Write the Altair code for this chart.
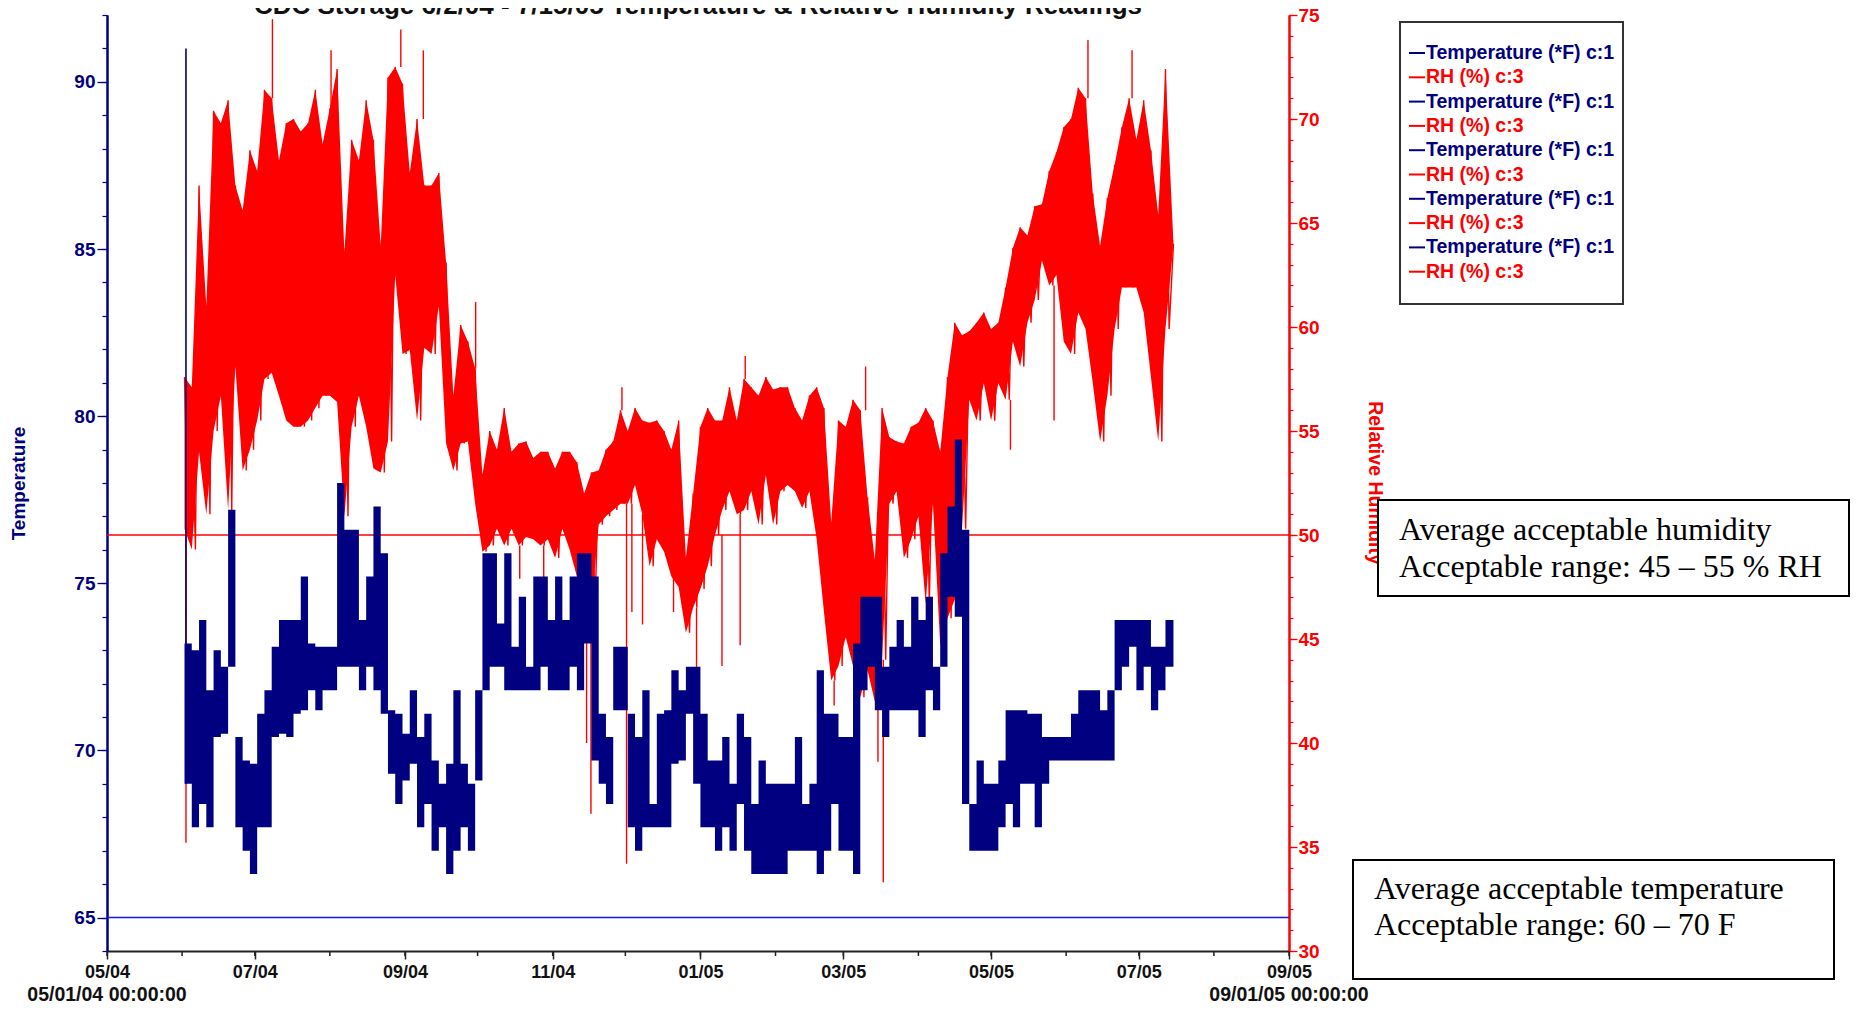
import altair as alt
import pandas as pd

NAVY = "#000080"
RED = "#FF0000"
BLUE = "#1515E6"
AXIS_GRAY = "#222222"
SANS = "Liberation Sans, Arial, sans-serif"
SERIF = "Liberation Serif, Times New Roman, serif"

# ---------------- data ----------------
# readings are grouped in 3-day windows starting 2004-06-02 (day 32 after 05/01/04):
# the highest and the lowest value seen in each window
START_DAY = 32
STEP_DAYS = 3

RH_HI = [57.6, 57.1, 66.8, 61.0, 70.4, 69.8, 70.9, 66.8, 65.6, 68.5,
         67.5, 71.4, 71.0, 68.0, 69.8, 70.0, 69.4, 69.8, 71.4, 68.8,
         70.5, 72.4, 63.6, 69.0, 68.0, 70.9, 69.0, 63.9, 72.0, 72.5,
         71.7, 67.4, 70.0, 66.8, 66.8, 67.4, 63.1, 56.7, 60.1, 59.3,
         58.0, 52.9, 55.0, 54.1, 56.1, 54.0, 54.4, 54.5, 53.7, 54.0,
         54.0, 53.2, 54.0, 54.0, 53.5, 52.0, 53.0, 53.1, 54.1, 54.5,
         56.0, 55.0, 56.1, 55.5, 55.4, 55.5, 55.0, 54.1, 55.5, 48.9,
         52.0, 55.2, 56.1, 55.5, 55.5, 57.1, 55.5, 57.5, 57.1, 56.7,
         57.6, 57.0, 57.1, 57.1, 56.1, 55.5, 56.7, 57.1, 56.1, 50.6,
         55.5, 55.2, 56.5, 56.0, 51.8, 48.8, 56.1, 54.7, 54.5, 54.4,
         55.2, 55.4, 56.1, 55.5, 54.0, 57.6, 60.2, 59.6, 59.8, 60.2,
         60.7, 59.9, 60.2, 61.9, 63.8, 64.8, 64.4, 65.8, 65.9, 67.5,
         68.4, 69.6, 70.0, 71.5, 71.0, 66.4, 63.9, 66.2, 67.8, 69.6,
         71.0, 69.0, 70.9, 68.5, 65.4, 72.4]

RH_LO = [50.3, 49.3, 54.0, 51.0, 55.0, 56.7, 51.2, 58.1, 53.1, 54.1,
         55.5, 57.5, 57.8, 56.7, 55.5, 55.2, 55.2, 55.5, 56.1, 56.7,
         56.7, 56.4, 50.9, 55.2, 56.7, 55.2, 53.2, 53.0, 54.5, 62.5,
         58.7, 58.9, 55.5, 59.0, 58.7, 61.0, 54.4, 53.1, 54.4, 54.5,
         51.5, 49.2, 49.5, 50.3, 49.5, 50.3, 49.5, 49.9, 49.8, 49.5,
         49.8, 48.9, 50.3, 49.3, 48.0, 46.0, 46.5, 50.5, 50.9, 51.2,
         51.5, 51.5, 52.4, 51.0, 48.5, 49.8, 49.2, 48.0, 47.5, 45.3,
         46.5, 47.4, 48.5, 50.0, 51.2, 52.1, 51.0, 51.2, 52.1, 50.5,
         52.9, 50.5, 52.1, 52.4, 52.1, 51.3, 52.1, 49.8, 46.3, 43.0,
         43.7, 45.1, 43.7, 42.2, 43.5, 42.0, 44.0, 51.5, 52.1, 48.9,
         49.8, 50.9, 46.7, 51.5, 44.7, 46.0, 46.9, 50.3, 56.5, 55.5,
         57.3, 55.5, 57.3, 56.5, 59.3, 58.1, 60.2, 61.3, 63.2, 62.0,
         62.5, 59.3, 58.7, 60.7, 59.9, 57.3, 54.5, 56.7, 59.9, 61.9,
         61.9, 61.9, 60.7, 57.6, 54.5, 59.9]

T_HI = [73.2, 73.0, 73.9, 71.8, 73.0, 72.5, 77.2, 70.4, 69.7, 69.6,
        71.1, 71.8, 73.1, 73.9, 73.9, 73.9, 75.2, 73.2, 73.1, 73.1,
        73.1, 78.0, 76.6, 76.6, 73.9, 75.2, 77.3, 75.9, 71.2, 71.1,
        70.5, 71.8, 70.4, 71.1, 69.7, 69.0, 69.6, 71.8, 69.6, 69.0,
        71.8, 75.9, 75.9, 73.8, 75.9, 73.1, 74.6, 72.5, 75.2, 75.2,
        73.9, 75.2, 73.9, 75.2, 75.9, 75.9, 75.2, 71.1, 70.4, 73.1,
        73.1, 71.1, 70.4, 71.8, 68.4, 71.1, 71.2, 72.4, 71.8, 72.5,
        72.5, 71.1, 69.7, 69.7, 70.4, 69.0, 71.1, 70.4, 68.4, 69.7,
        69.0, 69.0, 69.0, 69.0, 70.4, 68.4, 69.0, 72.4, 71.1, 71.1,
        70.4, 70.4, 73.2, 74.6, 74.6, 74.6, 72.5, 73.1, 73.9, 73.1,
        74.6, 73.9, 74.6, 72.5, 75.9, 77.3, 79.3, 76.6, 68.4, 69.7,
        69.0, 69.0, 69.7, 71.2, 71.2, 71.2, 71.1, 71.1, 70.4, 70.4,
        70.4, 70.4, 71.1, 71.8, 71.8, 71.8, 71.2, 71.8, 73.9, 73.9,
        73.9, 73.9, 73.9, 73.1, 73.1, 73.9]

T_LO = [69.0, 67.7, 68.4, 67.7, 70.4, 70.5, 72.5, 67.7, 67.0, 66.3,
        67.7, 67.7, 70.4, 70.5, 70.4, 71.1, 71.2, 71.8, 71.2, 71.8,
        71.8, 72.5, 72.5, 72.5, 71.8, 72.5, 71.8, 71.1, 69.3, 68.4,
        69.1, 69.6, 67.7, 68.4, 67.0, 67.7, 66.3, 67.0, 67.7, 67.0,
        69.1, 71.8, 72.5, 72.5, 71.8, 71.8, 71.8, 71.8, 71.8, 72.5,
        71.8, 71.8, 71.8, 72.5, 71.8, 73.2, 69.7, 69.0, 68.4, 71.2,
        71.2, 67.7, 67.0, 67.7, 67.7, 67.7, 67.7, 69.6, 69.7, 71.1,
        69.0, 67.7, 67.7, 67.0, 67.7, 67.0, 68.4, 67.0, 66.3, 66.3,
        66.3, 66.3, 66.3, 67.0, 67.0, 67.0, 67.0, 66.3, 67.0, 68.4,
        67.0, 67.0, 66.3, 71.8, 72.5, 71.2, 70.4, 71.2, 71.2, 71.2,
        71.2, 70.4, 71.8, 71.2, 72.5, 74.6, 74.0, 68.4, 67.0, 67.0,
        67.0, 67.0, 67.7, 68.4, 67.7, 69.0, 69.0, 67.7, 69.0, 69.7,
        69.7, 69.7, 69.7, 69.7, 69.7, 69.7, 69.7, 69.7, 71.8, 72.5,
        73.1, 71.8, 72.5, 71.2, 71.8, 72.5]

# last readings (07/15/05)
END_DAY = 440.3
RH_END = 64.0
T_END = 73.9

# isolated spikes: day after 05/01/04, value where the stroke starts, value where it ends
RH_SPIKE_DAY = [32.6, 68.3, 92.5, 121.3, 130.6, 152.2, 170.4, 180.3, 198.0, 199.8,
                212.6, 214.5, 216.7, 221.1, 233.9, 243.4, 253.9, 261.4, 263.5, 300.2,
                313.2, 318.3, 320.5, 373.0, 391.0, 405.0, 423.2]
RH_SPIKE_FROM = [56.6, 71.0, 70.5, 72.5, 70.0, 58.0, 49.5, 49.5, 46.0, 46.5,
                 56.0, 51.5, 51.5, 51.0, 48.0, 46.5, 50.0, 51.0, 57.5, 43.0,
                 56.0, 42.0, 44.0, 56.5, 62.0, 71.0, 71.0]
RH_SPIKE_TO = [35.2, 74.8, 73.3, 74.3, 73.3, 61.2, 47.9, 47.9, 40.0, 36.6,
               57.1, 34.2, 46.3, 45.7, 46.3, 41.1, 43.7, 44.7, 58.6, 41.8,
               58.1, 39.1, 33.3, 54.1, 55.5, 73.8, 73.3]
T_SPIKE_DAY = [32.6]
T_SPIKE_FROM = [69.0]
T_SPIKE_TO = [91.0]

TEMP_TARGET = 65
RH_TARGET = 50
TEMP_DOMAIN = [64, 92]
RH_DOMAIN = [30, 75]

MONTH_TICKS = ["2004-05-01", "2004-06-01", "2004-07-01", "2004-08-01", "2004-09-01",
               "2004-10-01", "2004-11-01", "2004-12-01", "2005-01-01", "2005-02-01",
               "2005-03-01", "2005-04-01", "2005-05-01", "2005-06-01", "2005-07-01",
               "2005-08-01", "2005-09-01"]
LABELED_TICKS = MONTH_TICKS[::2]
X_END_DATES = ["2004-05-01", "2005-09-01"]
X_END_LABELS = ["05/01/04 00:00:00", "09/01/05 00:00:00"]

TITLE = "CDC Storage  6/2/04 - 7/15/05  Temperature & Relative Humidity Readings"
LEGEND_LABELS = ["Temperature (*F) c:1", "RH (%) c:3"] * 5
LEGEND_COLORS = [NAVY, RED] * 5
BOX1_LINES = ["Average acceptable humidity", "Acceptable range: 45 \u2013 55 % RH"]
BOX2_LINES = ["Average acceptable temperature", "Acceptable range: 60 \u2013 70 F"]

# ---------------- helpers ----------------
BASE = pd.Timestamp("2004-05-01", tz="UTC")


def ms(day):
    return int((BASE + pd.Timedelta(days=day)).value // 10**6)


def to_ms(s):
    return int(pd.Timestamp(s, tz="UTC").value // 10**6)


def band(hi, lo, end_value):
    rows = [{"t": ms(START_DAY + STEP_DAYS * i), "hi": h, "lo": l}
            for i, (h, l) in enumerate(zip(hi, lo))]
    rows.append({"t": ms(END_DAY), "hi": end_value, "lo": end_value})
    return pd.DataFrame(rows)


def readings(hi, lo, end_value):
    # high reading at the start of each window, low reading half-way through it
    rows = []
    for i, (h, l) in enumerate(zip(hi, lo)):
        d = START_DAY + STEP_DAYS * i
        rows.append({"t": ms(d), "v": h})
        rows.append({"t": ms(d + STEP_DAYS / 2), "v": l})
    rows.append({"t": ms(END_DAY), "v": end_value})
    return pd.DataFrame(rows)


rh_band_df = band(RH_HI, RH_LO, RH_END)
rh_line_df = readings(RH_HI, RH_LO, RH_END)
t_band_df = band(T_HI, T_LO, T_END)
rh_spk = pd.DataFrame({"t": [ms(d) for d in RH_SPIKE_DAY], "a": RH_SPIKE_FROM, "b": RH_SPIKE_TO})
t_spk = pd.DataFrame({"t": [ms(d) for d in T_SPIKE_DAY], "a": T_SPIKE_FROM, "b": T_SPIKE_TO})
month_df = pd.DataFrame({"t": [to_ms(s) for s in MONTH_TICKS]})
xend_df = pd.DataFrame({"t": [to_ms(s) for s in X_END_DATES], "label": X_END_LABELS})

W, H = 1182, 936

xscale = alt.Scale(type="utc", domain=[ms(0), ms(488)])
xaxis = alt.Axis(
    orient="bottom", values=[to_ms(s) for s in LABELED_TICKS],
    labelExpr="utcFormat(datum.value, '%m/%y')",
    title=None, grid=False, tickSize=8, tickColor=AXIS_GRAY, tickWidth=1.5,
    domainColor=AXIS_GRAY, domainWidth=2,
    labelFont=SANS, labelFontSize=18, labelFontWeight="bold", labelColor="#111111",
    labelOverlap=False, labelFlush=False, labelAngle=0, labelPadding=4,
)
# every x encoding carries the same axis so the layers merge into one bottom axis
X = alt.X("t:T", scale=xscale, axis=xaxis)

tscale = alt.Scale(domain=TEMP_DOMAIN, nice=False, zero=False)
rscale = alt.Scale(domain=RH_DOMAIN, nice=False, zero=False)

taxis_major = alt.Axis(
    orient="left", values=list(range(65, 91, 5)), grid=False, tickSize=10,
    labelFont=SANS, labelFontSize=19, labelFontWeight="bold", labelColor=NAVY, labelPadding=2,
    domainColor=NAVY, domainWidth=2, tickColor=NAVY, tickWidth=1.3,
    title="Temperature", titleFont=SANS, titleFontSize=19, titleFontWeight="bold", titleColor=NAVY,
    titleX=-79, titleY=H / 2, titleAngle=270, titleBaseline="bottom", titleAlign="center",
)
taxis_minor = alt.Axis(orient="left", values=list(range(64, 93)), grid=False, tickSize=5,
                       labels=False, title=None, domainColor=NAVY, domainWidth=2,
                       tickColor=NAVY, tickWidth=1.2)
raxis_major = alt.Axis(
    orient="right", values=list(range(30, 76, 5)), grid=False, tickSize=8,
    labelFont=SANS, labelFontSize=19, labelFontWeight="bold", labelColor=RED, labelPadding=1,
    domainColor=RED, domainWidth=2, tickColor=RED, tickWidth=1.3, title=None,
)
raxis_minor = alt.Axis(orient="right", values=list(range(30, 76)), grid=False, tickSize=4,
                       labels=False, title=None, domainColor=RED, domainWidth=2,
                       tickColor=RED, tickWidth=1.2)

# ---------------- RH layer ----------------
rh_area = alt.Chart(rh_band_df).mark_area(color=RED, interpolate="linear").encode(
    x=X, y=alt.Y("lo:Q", scale=rscale, axis=raxis_major), y2="hi:Q")
rh_line = alt.Chart(rh_line_df).mark_line(
    color=RED, strokeWidth=1.4, strokeJoin="bevel", interpolate="linear").encode(
    x=X, y=alt.Y("v:Q", scale=rscale, axis=None))
rh_spikes = alt.Chart(rh_spk).mark_rule(color=RED, strokeWidth=1.4).encode(
    x=X, y=alt.Y("a:Q", scale=rscale, axis=None), y2="b:Q")
rh_ref = alt.Chart(pd.DataFrame({"v": [RH_TARGET]})).mark_rule(color=RED, strokeWidth=1.5).encode(
    y=alt.Y("v:Q", scale=rscale, axis=raxis_minor))
rh_layer = alt.layer(rh_area, rh_line, rh_spikes, rh_ref).resolve_axis(y="independent")

# ---------------- Temperature layer ----------------
t_area = alt.Chart(t_band_df).mark_area(color=NAVY, interpolate="step-after").encode(
    x=X, y=alt.Y("lo:Q", scale=tscale, axis=taxis_major), y2="hi:Q")
t_spikes = alt.Chart(t_spk).mark_rule(color=NAVY, strokeWidth=1.6).encode(
    x=X, y=alt.Y("a:Q", scale=tscale, axis=None), y2="b:Q")
t_ref = alt.Chart(pd.DataFrame({"v": [TEMP_TARGET]})).mark_rule(color=BLUE, strokeWidth=1.5).encode(
    y=alt.Y("v:Q", scale=tscale, axis=taxis_minor))
# monthly minor ticks and the full date under the first / last tick
minor_ticks = alt.Chart(month_df).mark_rule(color=AXIS_GRAY, strokeWidth=1.5).encode(
    x=X, y=alt.value(H), y2=alt.value(H + 5))
xend_text = alt.Chart(xend_df).mark_text(
    font=SANS, fontSize=19.5, fontWeight="bold", color="#111111", align="center",
    baseline="middle").encode(x=X, y=alt.value(H + 44), text="label:N")
t_layer = alt.layer(t_area, t_spikes, t_ref, minor_ticks, xend_text).resolve_axis(y="independent")

# ---------------- annotations (pixel positions relative to plot area) ----------------
one = pd.DataFrame({"k": [0]})

title_mark = alt.Chart(one).mark_text(
    text=TITLE, font=SANS, fontSize=26, fontWeight="bold", color="#111111",
    align="center", baseline="alphabetic").encode(x=alt.value(W / 2), y=alt.value(-1))

rh_title = alt.Chart(one).mark_text(
    text="Relative Humidity", font=SANS, fontSize=19.5, fontWeight="bold", color=RED,
    angle=90, align="center", baseline="middle").encode(x=alt.value(1268), y=alt.value(468))

legend_box = alt.Chart(one).mark_rect(fill="white", stroke="#333333", strokeWidth=2).encode(
    x=alt.value(1293), x2=alt.value(1516), y=alt.value(7), y2=alt.value(289))
leg_df = pd.DataFrame({"label": LEGEND_LABELS, "c": LEGEND_COLORS,
                       "row": list(range(len(LEGEND_LABELS)))})
leg_df["py"] = 38 + 24.3 * leg_df["row"]
leg_lines = alt.Chart(leg_df).mark_rule(strokeWidth=2).encode(
    x=alt.value(1302), x2=alt.value(1318),
    y=alt.Y("py:Q", scale=None, axis=None), color=alt.Color("c:N", scale=None))
leg_text = alt.Chart(leg_df).mark_text(
    align="left", baseline="middle", font=SANS, fontSize=19.5, fontWeight="bold").encode(
    x=alt.value(1319), y=alt.Y("py:Q", scale=None, axis=None),
    text="label:N", color=alt.Color("c:N", scale=None))


def text_box(x1, x2, y1, y2, lines, tx, ty0, dy):
    box = alt.Chart(one).mark_rect(fill="white", stroke="black", strokeWidth=2).encode(
        x=alt.value(x1), x2=alt.value(x2), y=alt.value(y1), y2=alt.value(y2))
    df = pd.DataFrame({"s": lines, "i": list(range(len(lines)))})
    df["py"] = ty0 + dy * df["i"]
    txt = alt.Chart(df).mark_text(
        align="left", baseline="alphabetic", font=SERIF, fontSize=32, color="black").encode(
        x=alt.value(tx), y=alt.Y("py:Q", scale=None, axis=None), text="s:N")
    return [box, txt]


box1 = text_box(1271, 1742, 485, 581, BOX1_LINES, 1292, 525, 37)
box2 = text_box(1246, 1727, 845, 964, BOX2_LINES, 1267, 884, 36)

chart = alt.layer(
    rh_layer, t_layer, title_mark, rh_title, legend_box, leg_lines, leg_text, *box1, *box2
).resolve_scale(y="independent").properties(
    width=W, height=H,
    padding={"left": 99, "top": 7, "right": 562, "bottom": 54},
    autosize=alt.AutoSizeParams(type="none"),
    background="white",
).configure_view(stroke=None)

chart.save("out.html", embed_options={"renderer": "svg", "actions": False})
